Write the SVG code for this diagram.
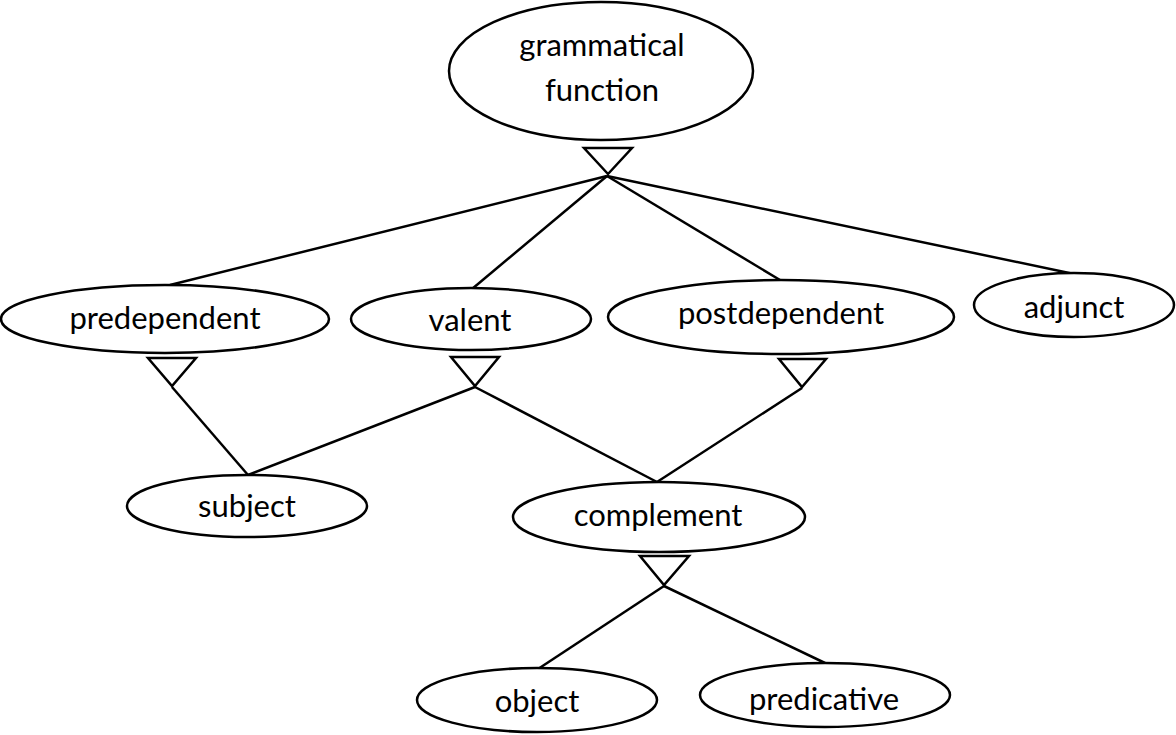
<svg xmlns="http://www.w3.org/2000/svg" width="1176" height="735" viewBox="0 0 1176 735">
<style>
.n ellipse{fill:#fff;stroke:#000;stroke-width:2.5}
.n text{font-family:Lato,"Open Sans","Liberation Sans",sans-serif;font-size:31px;fill:#000;text-anchor:middle}
.c line{stroke:#000;stroke-width:2.5}
.c polygon{fill:#fff;stroke:#000;stroke-width:2.5;stroke-linejoin:miter}
</style>
<rect width="1176" height="735" fill="#fff"/>
<g class="c" id="connectors">
<line x1="607" y1="176" x2="170" y2="285"/>
<line x1="607" y1="176" x2="472" y2="289"/>
<line x1="607" y1="176" x2="780" y2="280"/>
<line x1="607" y1="176" x2="1074" y2="274"/>
<line x1="172" y1="387" x2="248" y2="475"/>
<line x1="475" y1="387" x2="248" y2="475"/>
<line x1="475" y1="387" x2="657" y2="482"/>
<line x1="802" y1="388" x2="657" y2="482"/>
<line x1="664" y1="586" x2="538" y2="669"/>
<line x1="664" y1="586" x2="825" y2="663"/>
<polygon points="584,148 632,148 608,174"/>
<polygon points="148,358 196,358 172,386"/>
<polygon points="451,357 499,357 475,386"/>
<polygon points="779,359 826,359 802,387"/>
<polygon points="640,556 689,556 664,585"/>
</g>
<g class="n" id="grammatical-function"><ellipse cx="601" cy="71" rx="152" ry="69"/><text x="602" y="56">grammatical</text><text x="602" y="101">function</text></g>
<g class="n" id="predependent"><ellipse cx="165" cy="319" rx="164" ry="34"/><text x="165" y="329">predependent</text></g>
<g class="n" id="valent"><ellipse cx="471" cy="319" rx="120" ry="31"/><text x="470" y="331">valent</text></g>
<g class="n" id="postdependent"><ellipse cx="781" cy="317" rx="173" ry="37"/><text x="781" y="324">postdependent</text></g>
<g class="n" id="adjunct"><ellipse cx="1074" cy="305" rx="100" ry="32"/><text x="1074" y="318">adjunct</text></g>
<g class="n" id="subject"><ellipse cx="247" cy="506" rx="120" ry="31"/><text x="247" y="517">subject</text></g>
<g class="n" id="complement"><ellipse cx="659" cy="517" rx="146" ry="35"/><text x="658" y="526">complement</text></g>
<g class="n" id="object"><ellipse cx="537" cy="700" rx="120" ry="32"/><text x="537" y="712">object</text></g>
<g class="n" id="predicative"><ellipse cx="825" cy="695" rx="125" ry="32"/><text x="824" y="710">predicative</text></g>
</svg>
